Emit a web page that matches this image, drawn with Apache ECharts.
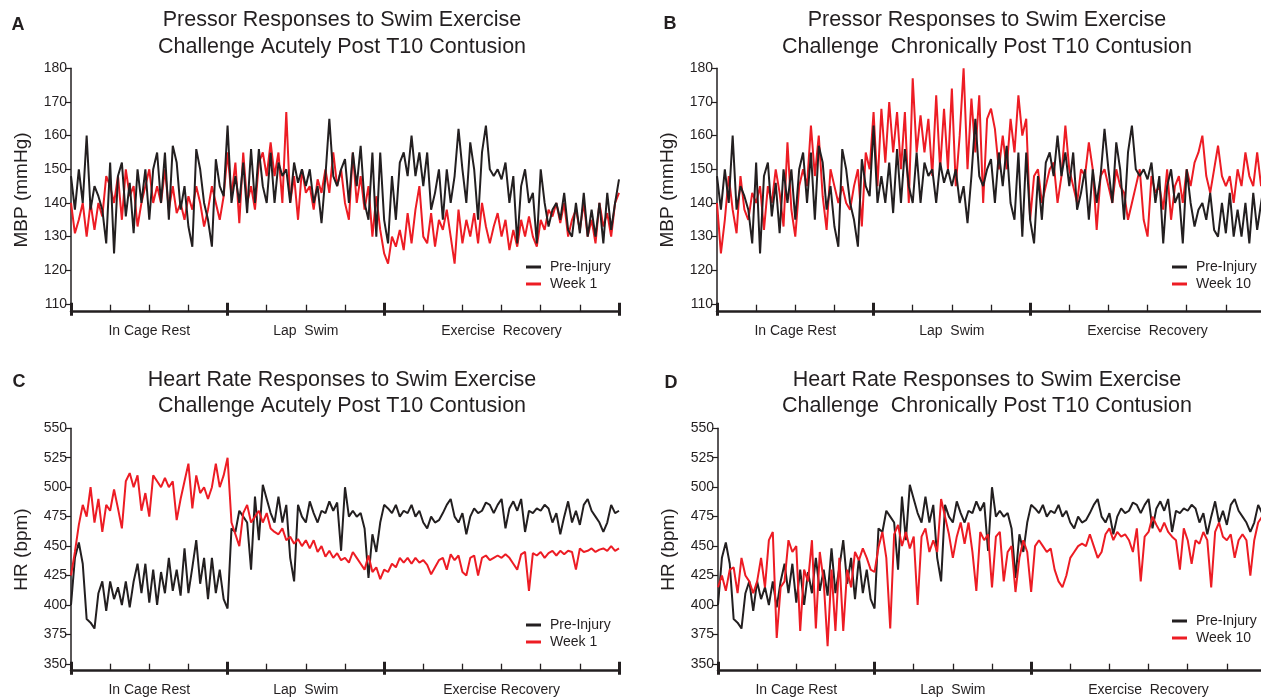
<!DOCTYPE html>
<html><head><meta charset="utf-8">
<script src="https://cdn.jsdelivr.net/npm/echarts@6/dist/echarts.min.js"></script>
<style>html,body{margin:0;padding:0;background:#fff}#c{width:1261px;height:699px}</style>
</head><body><div id="c"></div><script>
// ---------- data ----------
const xStep = 0.1; // minutes per sample, x from 0 to 14
const phaseLabelsTop = {2:'In Cage Rest', 6:'Lap  Swim', 11:'Exercise  Recovery'};
const phaseLabelsC = {2:'In Cage Rest', 6:'Lap  Swim', 11:'Exercise Recovery'};
const phaseLabelsD = {2:'In Cage Rest', 6:'Lap  Swim', 11:'Exercise  Recovery'};
const mbpTicks = [110,120,130,140,150,160,170,180];
const hrTicks = [350,375,400,425,450,475,500,525,550];
const minorTicks = [0,1,2,3,4,5,6,7,8,9,10,11,12,13,14];
const phaseTicks = [0,4,8,14];

const preMBP = [
148,138,150,140,160,138,145,142,138,128,
152,125,148,152,136,146,131,150,140,150,
135,150,155,140,155,135,157,152,138,145,
133,127,156,150,140,135,127,153,145,142,
163,140,148,140,152,137,156,140,156,145,
140,155,140,152,148,150,140,152,146,150,
145,150,140,145,134,148,165,148,145,150,
153,140,155,145,157,140,135,155,130,155,
135,128,148,135,152,155,148,160,148,155,
145,155,138,143,150,135,150,140,148,162,
150,140,158,150,135,155,163,150,148,150,
147,152,140,148,128,145,150,140,143,128,
150,140,133,138,140,135,143,132,130,140,
131,143,130,138,130,140,128,143,132,140,
147];
const week1MBP = [
140,131,135,140,130,140,132,140,136,148,
145,140,148,135,150,142,145,133,140,145,
150,140,145,140,150,138,145,137,140,135,
142,138,145,140,133,138,145,140,135,142,
155,142,152,134,155,140,145,138,152,155,
148,158,148,155,140,167,140,148,135,150,
143,145,138,147,143,150,143,155,145,150,
140,135,155,140,148,138,145,130,142,132,
125,122,130,127,132,126,137,128,138,145,
130,128,137,127,135,132,138,130,122,138,
128,135,130,137,128,140,133,128,133,137,
130,135,126,132,127,135,130,136,130,127,
135,132,138,136,140,134,140,130,135,138,
132,140,130,135,128,140,133,137,130,140,
143];
const week10MBP = [
140,125,135,148,138,131,148,138,135,143,
140,145,132,145,140,150,143,133,158,138,
130,145,150,145,163,148,160,142,132,150,
145,140,145,140,138,145,150,133,155,150,
167,145,168,152,170,155,167,150,167,140,
177,155,166,155,165,148,172,150,168,150,
174,145,160,180,150,171,155,172,140,165,
168,162,150,160,150,165,155,172,160,165,
135,148,150,140,145,150,152,140,148,163,
150,145,140,150,148,158,150,132,148,150,
145,140,150,145,143,135,140,145,150,135,
130,148,143,145,138,150,135,145,148,140,
150,145,152,155,160,148,143,150,157,148,
145,148,140,150,145,155,148,145,155,145,
148];
const preHR = [
400,440,453,435,388,385,380,410,420,395,
420,405,415,400,420,398,420,435,410,435,
402,430,400,428,410,440,412,430,408,448,
410,432,455,418,440,405,440,410,430,405,
397,465,462,480,475,470,430,492,455,502,
490,478,470,492,470,485,440,420,485,475,
470,488,478,470,480,478,488,480,487,446,
500,475,480,475,478,465,423,460,445,470,
485,482,478,485,475,480,478,485,475,480,
470,465,475,470,472,478,485,490,475,470,
478,460,475,482,478,480,487,485,478,485,
490,465,482,488,480,490,462,480,478,482,
480,485,482,470,478,460,475,488,470,480,
468,485,490,480,475,470,462,470,485,478,
480];
const week1HR = [
425,445,468,485,475,500,470,490,462,485,
480,498,482,465,505,512,500,510,480,495,
475,510,505,500,508,500,505,472,490,505,
520,482,510,495,500,490,500,520,500,510,
525,470,460,450,478,485,470,475,480,470,
478,465,462,460,465,455,458,452,456,450,
455,448,455,445,450,441,446,440,444,438,
440,436,445,440,435,430,442,428,432,422,
430,428,435,432,440,436,440,435,440,436,
438,434,426,432,438,440,430,443,438,442,
428,425,440,442,425,440,442,438,440,442,
440,443,440,435,430,443,445,412,444,442,
445,440,444,446,442,446,443,446,445,430,
448,445,446,448,445,447,448,446,450,446,
448];
const week10HR = [
415,425,412,430,432,410,440,425,420,410,
420,440,415,455,462,372,415,420,455,445,
450,378,430,420,455,380,445,420,365,430,
378,440,378,430,415,445,438,448,440,430,
428,449,462,440,380,460,468,450,462,448,
458,400,458,465,445,455,445,490,475,460,
440,458,470,452,470,445,412,462,455,460,
415,458,462,420,445,450,411,440,455,445,
411,450,455,450,445,448,430,420,415,425,
440,445,450,452,450,460,450,440,445,460,
465,455,462,458,460,455,445,465,420,458,
462,475,468,462,470,462,458,455,430,465,
455,435,455,452,462,455,415,462,470,458,
455,460,440,455,460,455,425,455,470,475,
475];

// ---------- styling ----------
const INK = '#231f20';
const RED = '#ed1c24';
const FONT = '"Liberation Sans", Arial, Helvetica, sans-serif';

function pts(arr){ return arr.map((v,i)=>[Math.round(i*xStep*100)/100, v]); }

const panels = [
  {grid:{left:71, top:68.3, width:548, height:243.4}, ymin:107.7, ymax:180, ticks:mbpTicks, yname:'MBP (mmHg)',
   labels:phaseLabelsTop, pre:preMBP, post:week1MBP, postName:'Week 1', postOnTop:false,
   legend:{left:526, top:260}},
  {grid:{left:717, top:68.3, width:548, height:243.4}, ymin:107.7, ymax:180, ticks:mbpTicks, yname:'MBP (mmHg)',
   labels:phaseLabelsTop, pre:preMBP, post:week10MBP, postName:'Week 10', postOnTop:false,
   legend:{left:1172, top:260}},
  {grid:{left:71, top:428.3, width:548, height:242.4}, ymin:344.2, ymax:550, ticks:hrTicks, yname:'HR (bpm)',
   labels:phaseLabelsC, pre:preHR, post:week1HR, postName:'Week 1', postOnTop:true,
   legend:{left:526, top:618}},
  {grid:{left:718, top:428.3, width:548, height:242.4}, ymin:344.2, ymax:550, ticks:hrTicks, yname:'HR (bpm)',
   labels:phaseLabelsD, pre:preHR, post:week10HR, postName:'Week 10', postOnTop:true,
   legend:{left:1172, top:614}}
];

const grid=[], xAxis=[], yAxis=[], series=[], legend=[];
panels.forEach((p,g)=>{
  grid.push(Object.assign({containLabel:false, outerBoundsMode:'none'}, p.grid));
  xAxis.push({type:'value', gridIndex:g, position:'bottom', min:0, max:14, interval:1,
    axisLine:{show:true, lineStyle:{color:INK, width:2.5}},
    axisTick:{show:true, inside:true, length:7, customValues:minorTicks, lineStyle:{color:INK, width:1.3}},
    axisLabel:{show:true, customValues:[2,6,11], formatter:v=>p.labels[v]||'', margin:12,
      fontSize:14, color:INK, fontFamily:FONT},
    splitLine:{show:false}});
  xAxis.push({type:'value', gridIndex:g, position:'bottom', min:0, max:14, offset:4,
    axisLine:{show:false},
    axisTick:{show:true, inside:true, length:13, customValues:phaseTicks, lineStyle:{color:INK, width:3}},
    axisLabel:{show:false}, splitLine:{show:false}});
  yAxis.push({type:'value', gridIndex:g, min:p.ymin, max:p.ymax,
    axisLine:{show:true, lineStyle:{color:INK, width:1.5}},
    axisTick:{show:true, length:6, customValues:p.ticks, lineStyle:{color:INK, width:1.2}},
    axisLabel:{show:true, customValues:p.ticks, margin:4, fontSize:14, color:INK, fontFamily:FONT},
    splitLine:{show:false},
    name:p.yname, nameLocation:'middle', nameGap:40,
    nameTextStyle:{fontSize:19, color:INK, fontFamily:FONT}});
  const sPre = {type:'line', name:'Pre-Injury', xAxisIndex:2*g, yAxisIndex:g, data:pts(p.pre),
    showSymbol:false, symbol:'none', lineStyle:{width:2, color:INK}, itemStyle:{color:INK}, z:p.postOnTop?2:3};
  const sPost = {type:'line', name:p.postName, xAxisIndex:2*g, yAxisIndex:g, data:pts(p.post),
    showSymbol:false, symbol:'none', lineStyle:{width:2, color:RED}, itemStyle:{color:RED}, z:p.postOnTop?3:2};
  if (p.postOnTop) { series.push(sPre, sPost); } else { series.push(sPost, sPre); }
  legend.push({data:['Pre-Injury', p.postName], orient:'vertical', left:p.legend.left, top:p.legend.top,
    padding:0, icon:'rect', itemWidth:15, itemHeight:3, itemGap:3, selectedMode:false,
    textStyle:{fontSize:14, color:INK, fontFamily:FONT, lineHeight:14, padding:[0,0,0,4]}});
});

const titles = [
  {x:342, y1:20, y2:47, l1:'Pressor Responses to Swim Exercise', l2:'Challenge Acutely Post T10 Contusion', letter:'A', lx:18, ly:25},
  {x:987, y1:20, y2:47, l1:'Pressor Responses to Swim Exercise', l2:'Challenge  Chronically Post T10 Contusion', letter:'B', lx:670, ly:24},
  {x:342, y1:380, y2:406, l1:'Heart Rate Responses to Swim Exercise', l2:'Challenge Acutely Post T10 Contusion', letter:'C', lx:19, ly:382},
  {x:987, y1:380, y2:406, l1:'Heart Rate Responses to Swim Exercise', l2:'Challenge  Chronically Post T10 Contusion', letter:'D', lx:671, ly:383}
];
const graphic = [];
titles.forEach(t=>{
  [[t.l1,t.y1],[t.l2,t.y2]].forEach(([s,y])=>graphic.push({type:'text', x:t.x, y:y,
    style:{text:s, fill:INK, font:'21.5px '+FONT, textAlign:'center', textVerticalAlign:'middle'}}));
  graphic.push({type:'text', x:t.lx, y:t.ly,
    style:{text:t.letter, fill:INK, font:'bold 18px '+FONT, textAlign:'center', textVerticalAlign:'middle'}});
});

const chart = echarts.init(document.getElementById('c'), null, {renderer:'canvas'});
chart.setOption({animation:false, backgroundColor:'#fff', grid, xAxis, yAxis, series, legend, graphic});
</script></body></html>
